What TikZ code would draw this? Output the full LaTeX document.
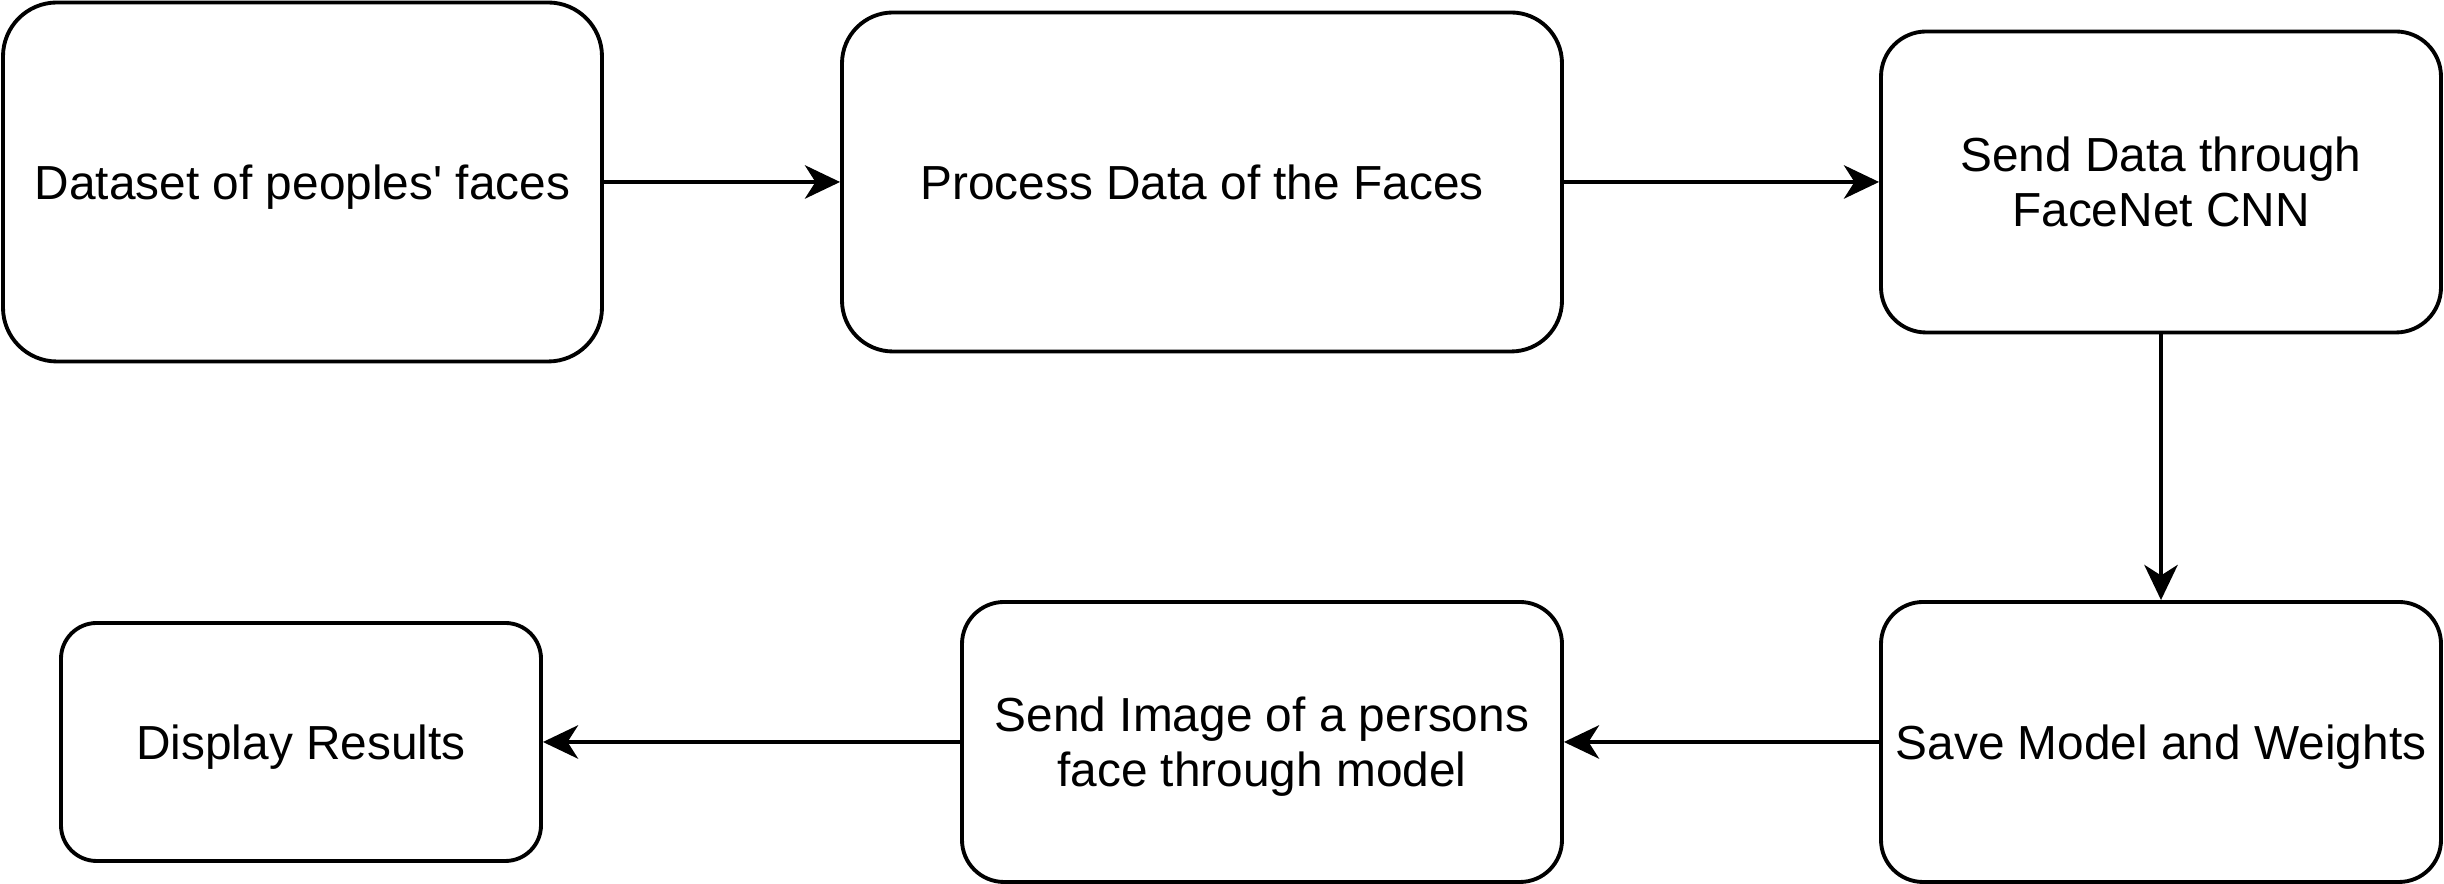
\documentclass[tikz,border=0pt]{standalone}
\usepackage{fontspec}
\setmainfont{Liberation Sans}
\usetikzlibrary{arrows.meta}

\begin{document}
\begin{tikzpicture}[x=1cm, y=1cm, font=\fontsize{13.6}{15.6}\selectfont,
    stage/.style={draw, line width=1.1pt, align=center, inner sep=2pt,
                  text depth=0pt},
    flow/.style={line width=1.1pt, -{Stealth[length=10pt, width=9.5pt, inset=3pt]}}]

\useasboundingbox (0,0) rectangle (24.44,8.84);

% --- stages --  name/centre x/centre y/width/height/label ------------------
\foreach \name/\cx/\cy/\w/\h/\text in {%
    faces/3.025/7.02/5.99/3.59/{Dataset of peoples\textquotesingle{} faces},
    process/12.02/7.02/7.20/3.39/{Process Data of the Faces},
    facenet/21.61/7.02/5.60/3.01/{Send Data through\\FaceNet CNN},
    save/21.61/1.42/5.60/2.80/{Save Model and Weights},
    query/12.62/1.42/6.00/2.80/{Send Image of a persons\\face through model},
    results/3.01/1.42/4.80/2.38/{Display Results}}
{
  \pgfmathsetmacro{\rad}{0.15*\h}
  \node[stage, rounded corners=\rad cm, minimum width=\w cm,
        minimum height=\h cm, name=\name] at (\cx,\cy) {\text};
}

% --- flow ------------------------------------------------------------------
\draw[flow] (faces) -- (process);
\draw[flow] (process) -- (facenet);
\draw[flow] (facenet) -- (save);
\draw[flow] (save) -- (query);
\draw[flow] (query) -- (results);
\end{tikzpicture}
\end{document}
